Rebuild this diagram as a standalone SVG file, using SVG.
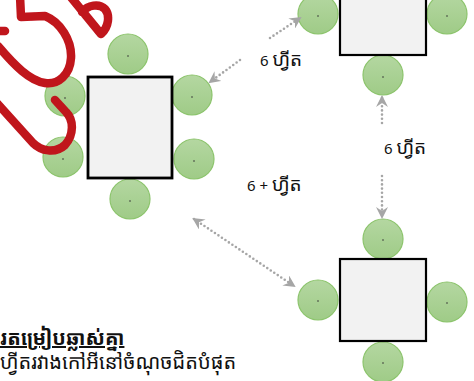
<svg xmlns="http://www.w3.org/2000/svg" width="474" height="381" viewBox="0 0 474 381">
  <defs>
    <linearGradient id="chairFill" x1="0" y1="0" x2="0" y2="1">
      <stop offset="0" stop-color="#b4d7a1"/>
      <stop offset="1" stop-color="#9fcb87"/>
    </linearGradient>
    <marker id="head" viewBox="0 0 12 12" refX="10" refY="6" markerWidth="12" markerHeight="12" markerUnits="userSpaceOnUse" orient="auto-start-reverse">
      <path d="M0,0 L12,6 L0,12 L4,6 Z" fill="#a6a6a6"/>
    </marker>
    <filter id="soft" x="-10%" y="-10%" width="120%" height="120%">
      <feGaussianBlur stdDeviation="0.5"/>
    </filter>
  </defs>
  <style>
    .table { fill: #f2f2f2; stroke: #000; stroke-width: 2.2; }
    .chair circle.seat { fill: url(#chairFill); stroke: #8cc46c; stroke-width: 1.2; }
    .chair circle.pin { fill: #333; }
    .link { fill: none; stroke: #a6a6a6; stroke-width: 2.6; stroke-linecap: round; stroke-dasharray: 0 4.2; }
    .label { font-family: "Noto Sans Khmer", "Khmer OS", "Noto Sans", "DejaVu Sans", sans-serif; font-size: 15px; fill: #111; }
    .label .km { font-size: 19px; }
    .note { font-family: "Noto Sans Khmer", "Khmer OS", "Noto Sans", "DejaVu Sans", sans-serif; font-size: 20px; fill: #111; }
    .ink { fill: none; stroke: #c0141c; stroke-width: 8.5; stroke-linecap: round; stroke-linejoin: round; }
  </style>

  <!-- table A (left) with six chairs -->
  <g id="tableA">
    <g class="chair"><circle class="seat" cx="128" cy="54" r="20"/><circle class="pin" cx="128" cy="56" r="0.8"/></g>
    <g class="chair"><circle class="seat" cx="65" cy="96" r="20"/><circle class="pin" cx="65" cy="98" r="0.8"/></g>
    <g class="chair"><circle class="seat" cx="63" cy="157" r="20"/><circle class="pin" cx="63" cy="159" r="0.8"/></g>
    <g class="chair"><circle class="seat" cx="192" cy="95" r="20"/><circle class="pin" cx="192" cy="97" r="0.8"/></g>
    <g class="chair"><circle class="seat" cx="194" cy="159" r="20"/><circle class="pin" cx="194" cy="161" r="0.8"/></g>
    <g class="chair"><circle class="seat" cx="130" cy="199" r="20"/><circle class="pin" cx="130" cy="201" r="0.8"/></g>
    <rect class="table" x="88" y="77" width="84" height="101" style="stroke-width:2.8"/>
  </g>

  <!-- table B (top right) -->
  <g id="tableB">
    <g class="chair"><circle class="seat" cx="318" cy="14" r="20"/><circle class="pin" cx="318" cy="16" r="0.8"/></g>
    <g class="chair"><circle class="seat" cx="447" cy="14" r="20"/><circle class="pin" cx="447" cy="16" r="0.8"/></g>
    <g class="chair"><circle class="seat" cx="383" cy="75" r="20"/><circle class="pin" cx="383" cy="77" r="0.8"/></g>
    <rect class="table" x="340" y="-10" width="86" height="65"/>
  </g>

  <!-- table C (bottom right) -->
  <g id="tableC">
    <g class="chair"><circle class="seat" cx="383" cy="239" r="20"/><circle class="pin" cx="383" cy="240" r="0.8"/></g>
    <g class="chair"><circle class="seat" cx="318" cy="300" r="20"/><circle class="pin" cx="318" cy="301" r="0.8"/></g>
    <g class="chair"><circle class="seat" cx="447" cy="302" r="20"/><circle class="pin" cx="447" cy="303" r="0.8"/></g>
    <g class="chair"><circle class="seat" cx="383" cy="362" r="20"/><circle class="pin" cx="383" cy="363" r="0.8"/></g>
    <rect class="table" x="340" y="259" width="86" height="82"/>
  </g>

  <!-- distance connectors -->
  <g id="connectors">
    <path class="link" d="M240,60 L210,82" marker-end="url(#head)"/>
    <path class="link" d="M270,38 L300,18" marker-end="url(#head)"/>
    <path class="link" d="M382,123 L382,97" marker-end="url(#head)"/>
    <path class="link" d="M382,176 L382,217" marker-end="url(#head)"/>
    <path class="link" d="M194,219 L294,286" marker-start="url(#head)" marker-end="url(#head)"/>
  </g>

  <!-- distance labels -->
  <g id="labels">
    <text class="label" x="260" y="66">6 <tspan class="km">ហ្វីត</tspan></text>
    <text class="label" x="384" y="154">6 <tspan class="km">ហ្វីត</tspan></text>
    <text class="label" x="247" y="191">6 + <tspan class="km">ហ្វីត</tspan></text>
  </g>

  <!-- caption -->
  <g id="caption">
    <text class="note" x="0" y="345" font-weight="bold" text-decoration="underline" font-size="21">រតម្រៀបឆ្លាស់គ្នា</text>
    <text class="note" x="0" y="369">ហ្វីតរវាងកៅអីនៅចំណុចជិតបំផុត</text>
  </g>

  <!-- red handwriting over the left table -->
  <g id="scribble" filter="url(#soft)">
    <path class="ink" d="M-4,31 L5,31"/>
    <path class="ink" d="M20,-4 L21,17 L45,16 C60,22 72,40 71,58 C70,75 58,85 45,83 C30,81 15,66 -2,46"/>
    <path class="ink" d="M70,-4 L101,34 C109,27 110,15 105,9 C99,3 88,5 82,12"/>
    <path class="ink" d="M-4,102 L33,143 C41,151 55,154 65,145 C74,135 74,120 66,112 L55,100"/>
  </g>
</svg>
